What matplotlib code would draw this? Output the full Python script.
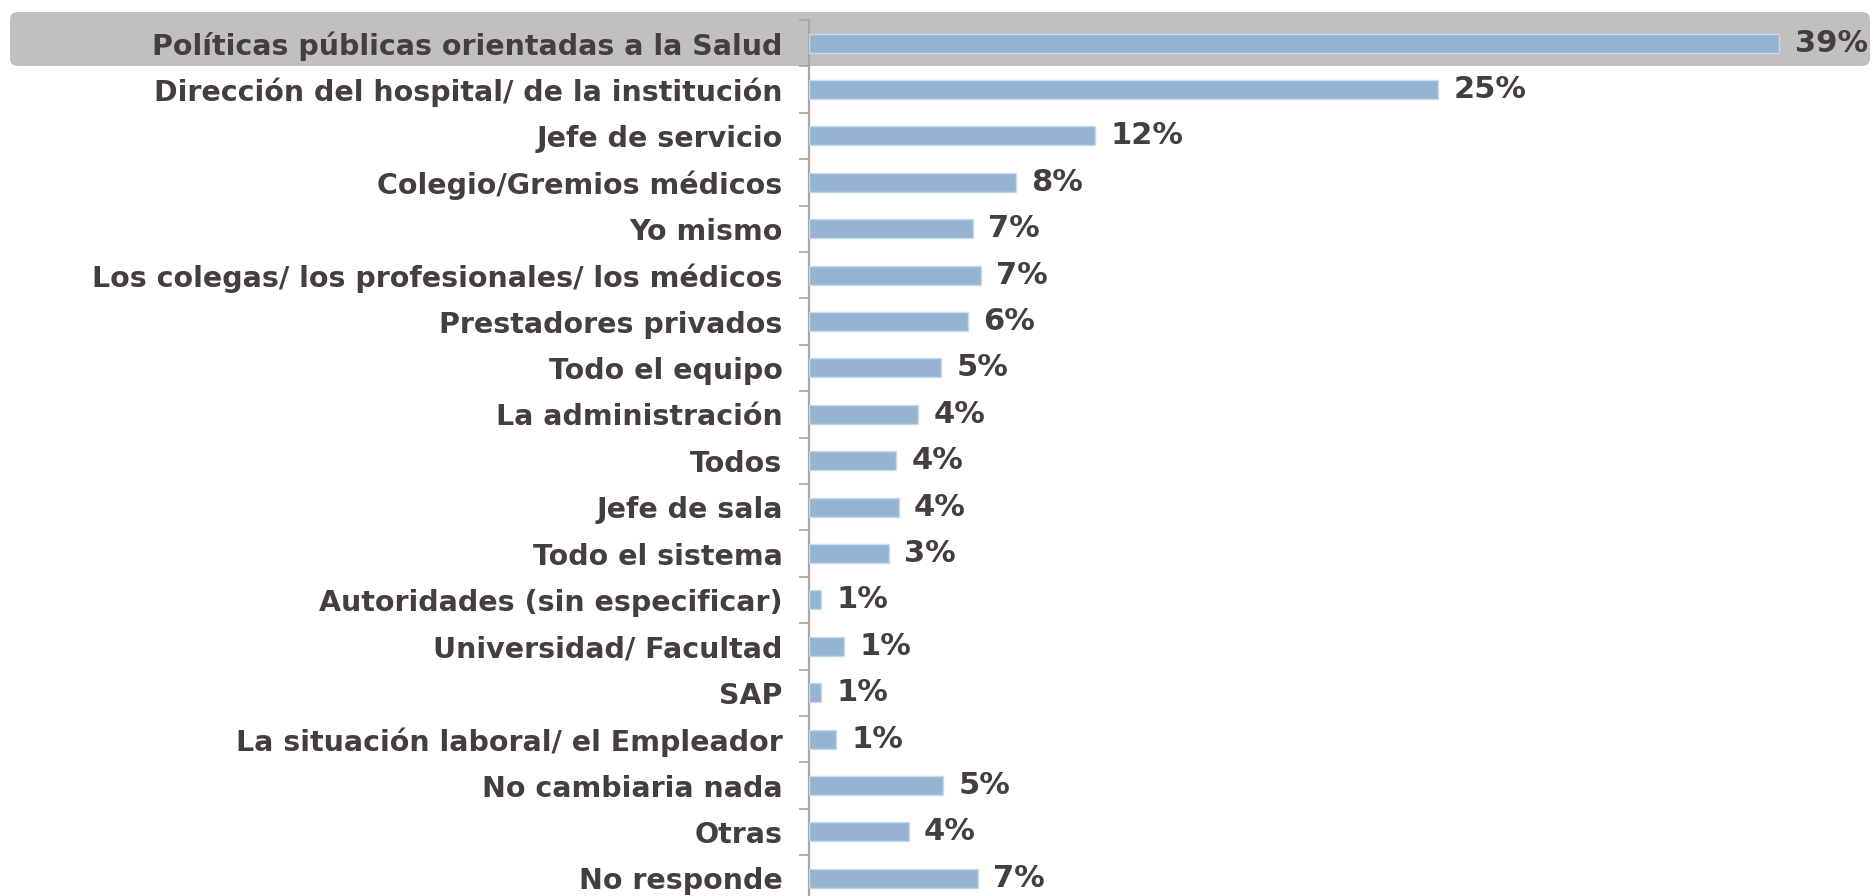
import matplotlib
matplotlib.use('Agg')
import matplotlib.pyplot as plt
from matplotlib.patches import FancyBboxPatch

categorias = [
    'Políticas públicas orientadas a la Salud',
    'Dirección del hospital/ de la institución',
    'Jefe de servicio',
    'Colegio/Gremios médicos',
    'Yo mismo',
    'Los colegas/ los profesionales/ los médicos',
    'Prestadores privados',
    'Todo el equipo',
    'La administración',
    'Todos',
    'Jefe de sala',
    'Todo el sistema',
    'Autoridades (sin especificar)',
    'Universidad/ Facultad',
    'SAP',
    'La situación laboral/ el Empleador',
    'No cambiaria nada',
    'Otras',
    'No responde',
]
valores = [39.0, 25.3, 11.5, 8.3, 6.6, 6.9, 6.4, 5.3, 4.4, 3.5, 3.6, 3.2,
           0.5, 1.4, 0.5, 1.1, 5.4, 4.0, 6.8]
etiquetas = ['39%', '25%', '12%', '8%', '7%', '7%', '6%', '5%', '4%', '4%',
             '4%', '3%', '1%', '1%', '1%', '1%', '5%', '4%', '7%']

color_texto = '#453e3e'
color_barra = '#94b4d2'
color_eje = '#a6a6a6'

W, H = 1874, 896
fig = plt.figure(figsize=(W / 100, H / 100), dpi=100)
fig.patch.set_facecolor('white')

# caja gris que resalta la primera fila
caja = FancyBboxPatch((10 / W, 1 - 66 / H), 1860 / W, 54 / H,
                      boxstyle='round,pad=0,rounding_size=%f' % (8 / W),
                      mutation_aspect=W / H,
                      transform=fig.transFigure, facecolor='#c0c0c0',
                      edgecolor='none', zorder=-1)
fig.patches.append(caja)

ax = fig.add_axes([809 / W, -5.5 / H, 1045 / W, 881.5 / H])
ax.set_facecolor('none')

pos = list(range(len(categorias)))
ax.barh(pos, valores, height=0.41, color=color_barra,
        edgecolor='#c8dbee', linewidth=1.0, zorder=3)

for i, (v, t) in enumerate(zip(valores, etiquetas)):
    ax.annotate(t, (v, i), xytext=(11, 0), textcoords='offset points',
                va='center', ha='left', fontsize=22, fontweight='bold',
                color=color_texto, family='DejaVu Sans')

ax.set_ylim(len(categorias) - 0.5, -0.5)
ax.set_xlim(0, 42)

ax.set_yticks(pos)
ax.set_yticklabels(categorias, fontsize=20.5, fontweight='bold',
                   color=color_texto, family='DejaVu Sans')
ax.set_yticks([p - 0.5 for p in pos], minor=True)
ax.tick_params(axis='y', which='major', length=0, pad=19)
ax.tick_params(axis='y', which='minor', length=7, width=1.2,
               color=color_eje, direction='out')
ax.set_xticks([])

for s in ['top', 'right', 'bottom']:
    ax.spines[s].set_visible(False)
ax.spines['left'].set_color(color_eje)
ax.spines['left'].set_linewidth(1.6)

fig.savefig('out.png', dpi=100)
